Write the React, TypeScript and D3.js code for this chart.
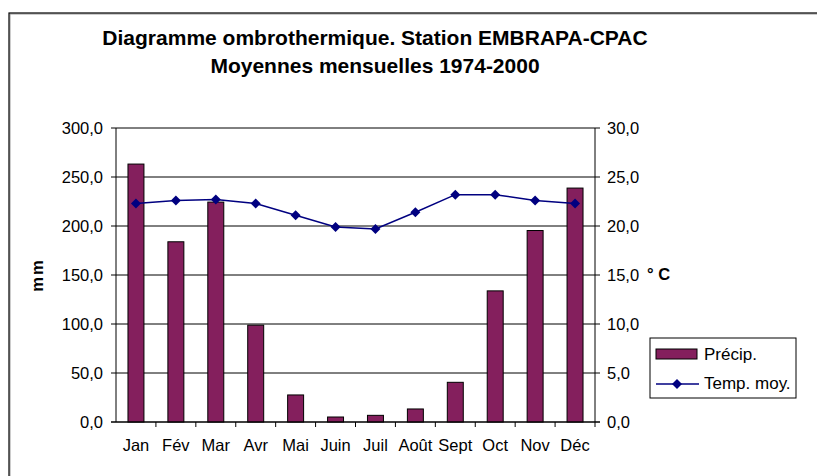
import React from "react";
import * as d3 from "d3";

// Monthly means 1974-2000, station EMBRAPA-CPAC
const months = ["Jan", "Fév", "Mar", "Avr", "Mai", "Juin", "Juil", "Août", "Sept", "Oct", "Nov", "Déc"];
const precip = [263.2, 183.9, 224.4, 98.8, 27.6, 5.1, 6.8, 13.3, 40.5, 133.8, 195.4, 238.7];
const temp = [22.3, 22.6, 22.7, 22.3, 21.1, 19.9, 19.7, 21.4, 23.2, 23.2, 22.6, 22.3];
const mmTicks = [0, 50, 100, 150, 200, 250, 300];
const cTicks = [0, 5, 10, 15, 20, 25, 30];

const W = 817;
const H = 476;
const FONT = "Arial, 'Liberation Sans', sans-serif";
const BAR = "#841f5d";
const LINE = "#000080";

const fmt = (v: number) => v.toFixed(1).replace(".", ",");

export default function App() {
  const left = 116, right = 595, top = 128, bottom = 422;

  const x = d3.scaleBand<string>().domain(months).range([left, right]).paddingInner(0.6).paddingOuter(0.3);
  const band = d3.scaleBand<string>().domain(months).range([left, right]);
  const yL = d3.scaleLinear().domain([0, 300]).range([bottom, top]);
  const yR = d3.scaleLinear().domain([0, 30]).range([bottom, top]);

  const line = d3.line<number>()
    .x((_, i) => band(months[i])! + band.bandwidth() / 2)
    .y(d => yR(d));

  const diamond = (cx: number, cy: number, r: number) =>
    `M${cx},${cy - r}L${cx + r},${cy}L${cx},${cy + r}L${cx - r},${cy}Z`;

  return (
    <svg width={W} height={H} style={{ position: "absolute", left: 0, top: 0, background: "#fff" }} fontFamily={FONT}>
      {/* chart frame */}
      <rect x={10} y={14} width={900} height={600} fill="none" stroke="#999" strokeWidth={1} />
      <rect x={9} y={13} width={900} height={600} fill="none" stroke="#000" strokeWidth={1.2} />

      <text x={375} y={45} textAnchor="middle" fontSize={21} fontWeight="bold">
        Diagramme ombrothermique. Station EMBRAPA-CPAC
      </text>
      <text x={375} y={73} textAnchor="middle" fontSize={21} fontWeight="bold">
        Moyennes mensuelles 1974-2000
      </text>

      {/* gridlines */}
      {mmTicks.map(t => (
        <line key={t} x1={left} x2={right} y1={yL(t)} y2={yL(t)} stroke="#000" strokeWidth={1} />
      ))}

      {/* bars */}
      {precip.map((v, i) => (
        <rect key={i} x={x(months[i])} y={yL(v)} width={x.bandwidth()} height={bottom - yL(v)}
          fill={BAR} stroke="#000" strokeWidth={1} />
      ))}

      {/* axes */}
      <line x1={left} x2={left} y1={top} y2={bottom} stroke="#000" />
      <line x1={right} x2={right} y1={top} y2={bottom} stroke="#000" />
      <line x1={left - 5} x2={right + 5} y1={bottom} y2={bottom} stroke="#000" />
      {mmTicks.map(t => (
        <g key={t}>
          <line x1={left - 5} x2={left} y1={yL(t)} y2={yL(t)} stroke="#000" />
          <text x={103} y={yL(t) + 5.5} textAnchor="end" fontSize={16.5}>{fmt(t)}</text>
        </g>
      ))}
      {cTicks.map(t => (
        <g key={t}>
          <line x1={right} x2={right + 5} y1={yR(t)} y2={yR(t)} stroke="#000" />
          <text x={607} y={yR(t) + 5.5} fontSize={16.5}>{fmt(t)}</text>
        </g>
      ))}
      {months.map((m, i) => (
        <g key={m}>
          {i > 0 && <line x1={band(m)} x2={band(m)} y1={bottom} y2={bottom + 5} stroke="#000" />}
          <text x={band(m)! + band.bandwidth() / 2} y={451} textAnchor="middle" fontSize={16.5}>{m}</text>
        </g>
      ))}
      <line x1={right} x2={right} y1={bottom} y2={bottom + 5} stroke="#000" />

      <text transform="translate(43,275) rotate(-90)" textAnchor="middle" fontSize={16.5} fontWeight="bold" letterSpacing={2}>mm</text>
      <text x={647} y={280} fontSize={16.5} fontWeight="bold">° C</text>

      {/* temperature */}
      <path d={line(temp)!} fill="none" stroke={LINE} strokeWidth={1.5} />
      {temp.map((v, i) => (
        <path key={i} d={diamond(band(months[i])! + band.bandwidth() / 2, yR(v), 5)} fill={LINE} />
      ))}

      {/* legend */}
      <rect x={650} y={338} width={146} height={60} fill="#fff" stroke="#000" />
      <rect x={656} y={349} width={41} height={10} fill={BAR} stroke="#000" />
      <text x={704} y={360} fontSize={17}>Précip.</text>
      <line x1={656} x2={699} y1={384} y2={384} stroke={LINE} strokeWidth={1.5} />
      <path d={diamond(677, 384, 5)} fill={LINE} />
      <text x={704} y={389} fontSize={17}>Temp. moy.</text>
    </svg>
  );
}
